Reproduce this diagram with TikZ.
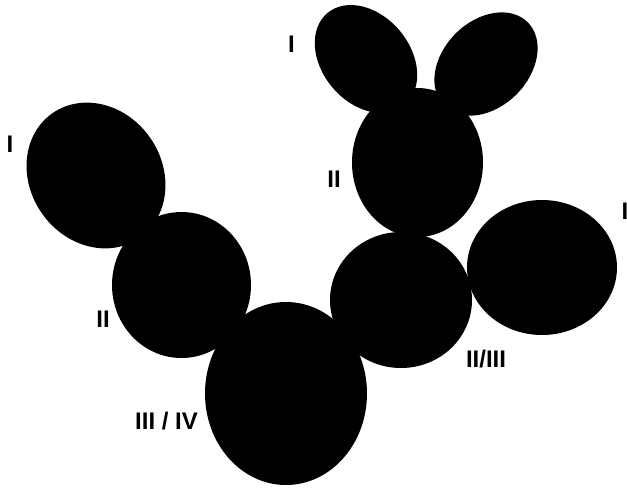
\documentclass[tikz,border=0pt]{standalone}
\usepackage{fontspec}
\setmainfont{Liberation Sans}
\usetikzlibrary{positioning}

\begin{document}
\begin{tikzpicture}[
    x=1pt, y=-1pt,
    blob/.style      = {fill=black},
    stage-lbl/.style = {font=\fontsize{24}{28}\selectfont\bfseries,
                        anchor=base, inner sep=0pt}
  ]

% page frame (pixel coordinates, y downwards)
\useasboundingbox (0,0) rectangle (627,488);

% =========================================================
% Left chain of cells
% =========================================================
\fill[blob, rotate around={-55:(96,175.5)}] (96,175.5) ellipse [x radius=76, y radius=66];
\fill[blob] (181.5,285) ellipse [x radius=69.5, y radius=73];
\fill[blob] (286,393.5) ellipse [x radius=81, y radius=91.5];

% =========================================================
% Right branch of cells
% =========================================================
\fill[blob] (401,300) ellipse [x radius=71, y radius=68];
\fill[blob] (542,267.5) ellipse [x radius=75, y radius=67.5];
\fill[blob] (417.5,162.5) ellipse [x radius=65.5, y radius=74.5];

% two small cells on top
\fill[blob, rotate around={-50:(366,59)}] (366,59) ellipse [x radius=60, y radius=44];
\fill[blob, rotate around={45:(486,64)}] (486,64) ellipse [x radius=59, y radius=43];

% =========================================================
% Stage labels
% =========================================================
\node[stage-lbl] (lblA) at (10,152) {I};
\node[stage-lbl] (lblB) at (103,327) {II};
\node[stage-lbl] (lblC) at (166.5,429) {III / IV};
\node[stage-lbl] (lblD) at (486,367) {II/III};
\node[stage-lbl, anchor=base west] (lblE) at (621.5,219) {I};
\node[stage-lbl] (lblF) at (334,187) {II};
\node[stage-lbl] (lblG) at (291.5,52) {I};

\end{tikzpicture}
\end{document}
